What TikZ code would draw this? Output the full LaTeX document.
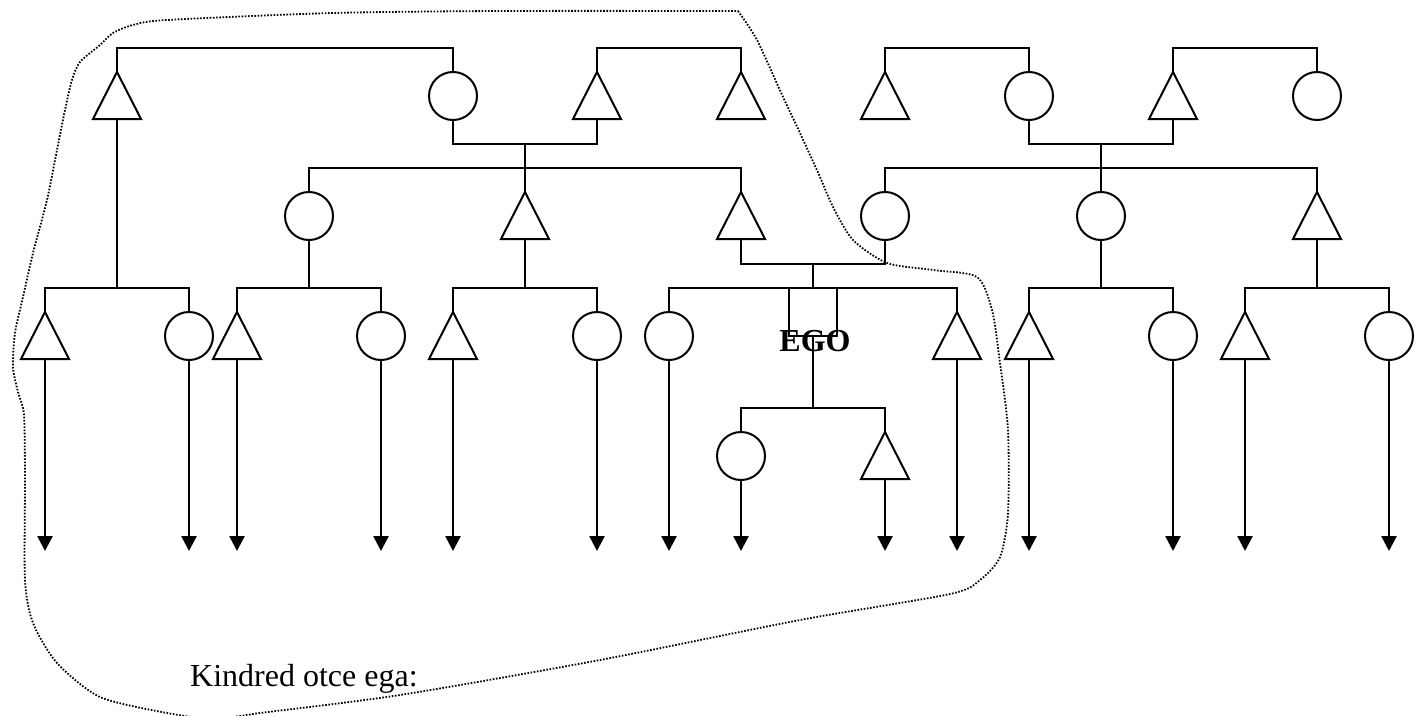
\documentclass[tikz,border=0pt]{standalone}
\usepackage{fontspec}
\setmainfont{Liberation Serif}
\usetikzlibrary{arrows.meta}
\tikzset{
  ln/.style={line width=2pt},
  person/.style={line width=2pt},
  arr/.style={line width=2.6pt,-{Triangle[length=15pt,width=15pt]}},
  outline/.style={line width=1.8pt, dash pattern=on 1.6pt off 1.6pt},
  male/.pic={\draw[person] (0,0) -- (24,47) -- (-24,47) -- cycle;
             \coordinate (-t) at (0,0); \coordinate (-b) at (0,47);},
  female/.pic={\draw[person] (0,24) circle[radius=24pt];
             \coordinate (-t) at (0,0); \coordinate (-b) at (0,48);},
}
\begin{document}
\begin{tikzpicture}[x=1pt,y=-1pt]
\useasboundingbox (0,0) rectangle (1416,715);
\fill[white] (0,0) rectangle (1416,715);

% reference rows
\coordinate (r3) at (0,288);
\coordinate (r4) at (0,408);
\coordinate (bot) at (0,551);

% generation 1
\pic (A1) at (117,72) {male};
\pic (A2) at (453,72) {female};
\pic (A3) at (597,72) {male};
\pic (A4) at (741,72) {male};
\pic (A5) at (885,72) {male};
\pic (A6) at (1029,72) {female};
\pic (A7) at (1173,72) {male};
\pic (A8) at (1317,72) {female};
% generation 2
\pic (B1) at (309,192) {female};
\pic (B2) at (525,192) {male};
\pic (B3) at (741,192) {male};
\pic (B4) at (885,192) {female};
\pic (B5) at (1101,192) {female};
\pic (B6) at (1317,192) {male};
% generation 3
\pic (C1) at (45,312) {male};
\pic (C2) at (189,312) {female};
\pic (C3) at (237,312) {male};
\pic (C4) at (381,312) {female};
\pic (C5) at (453,312) {male};
\pic (C6) at (597,312) {female};
\pic (C7) at (669,312) {female};
\pic (C8) at (957,312) {male};
\pic (C9) at (1029,312) {male};
\pic (C10) at (1173,312) {female};
\pic (C11) at (1245,312) {male};
\pic (C12) at (1389,312) {female};
% generation 4
\pic (D1) at (741,432) {female};
\pic (D2) at (885,432) {male};

% sibling bars generation 1
\draw[ln] (A1-t) -- ++(0,-24) -| (A2-t);
\draw[ln] (A3-t) -- ++(0,-24) -| (A4-t);
\draw[ln] (A5-t) -- ++(0,-24) -| (A6-t);
\draw[ln] (A7-t) -- ++(0,-24) -| (A8-t);
% marriages generation 1
\coordinate (m1) at (525,144);
\coordinate (m2) at (1101,144);
\draw[ln] (A2-b) -- (A2-b |- m1) -| (A3-b);
\draw[ln] (m1) -- (B2-t);
\draw[ln] (A6-b) -- (A6-b |- m2) -| (A7-b);
\draw[ln] (m2) -- (B5-t);
% sibling bars generation 2
\draw[ln] (B1-t) -- ++(0,-24) -| (B3-t);
\draw[ln] (B4-t) -- ++(0,-24) -| (B6-t);
% descents to generation 3
\draw[ln] (A1-b) -- (A1-b |- r3);
\draw[ln] (B1-b) -- (B1-b |- r3);
\draw[ln] (B2-b) -- (B2-b |- r3);
\draw[ln] (B5-b) -- (B5-b |- r3);
\draw[ln] (B6-b) -- (B6-b |- r3);
\coordinate (m3) at (813,264);
\draw[ln] (B3-b) -- (B3-b |- m3) -| (B4-b);
\draw[ln] (m3) -- (m3 |- r3);
% sibling bars generation 3
\draw[ln] (C1-t) -- ++(0,-24) -| (C2-t);
\draw[ln] (C3-t) -- ++(0,-24) -| (C4-t);
\draw[ln] (C5-t) -- ++(0,-24) -| (C6-t);
\draw[ln] (C7-t) -- ++(0,-24) -| (C8-t);
\draw[ln] (C9-t) -- ++(0,-24) -| (C10-t);
\draw[ln] (C11-t) -- ++(0,-24) -| (C12-t);
% ego
\coordinate (egoL) at (789,288);
\coordinate (egoR) at (837,288);
\coordinate (egoB) at (813,336);
\draw[ln] (egoL) -- ++(0,48) -| (egoR);
\draw[ln] (egoB) -- (egoB |- r4);
\draw[ln] (D1-t) -- ++(0,-24) -| (D2-t);
\node[font=\fontsize{32}{38}\selectfont\bfseries, anchor=base, inner sep=0] (ego) at (815,351) {EGO};

% descent arrows
\foreach \p in {C1,C2,C3,C4,C5,C6,C7,C8,C9,C10,C11,C12,D1,D2}
  \draw[arr] (\p-b) -- (\p-b |- bot);

% kindred outline (sharp corner at top right)
\draw[outline] plot[smooth, tension=0.45] coordinates {
 (738,11) (757,40) (783,97) (800,133) (820,177) (833,207) (853,240)
 (887,263) (933,270) (977,277) (992,310) (1000,363) (1008,430) (1008,513)
 (1000,557) (980,580) (950,594) (800,620) (600,660) (400,695) (260,713)
 (215,719) (167,713) (100,697) (57,663) (33,623) (25,580) (25,480) (24,415)
 (18,392) (13,367) (15,333) (23,297) (33,253) (47,200) (57,150) (65,110)
 (72,80) (80,62) (100,45) (113,33) (133,25) (167,20) (333,13) (500,11) (738,11)};

\node[font=\fontsize{32}{38}\selectfont, anchor=base west, inner sep=0] (kin) at (190,686) {Kindred otce ega:};
\end{tikzpicture}
\end{document}
